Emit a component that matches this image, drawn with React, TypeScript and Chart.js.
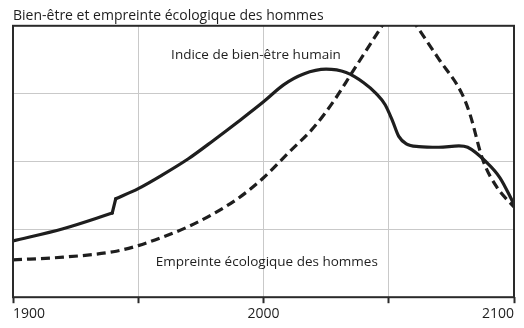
import React, { useEffect, useRef } from "react";
import { Chart, registerables } from "chart.js";

Chart.register(...registerables);

const titleText = "Bien-être et empreinte écologique des hommes";
const wellbeingLabel = "Indice de bien-être humain";
const footprintLabel = "Empreinte écologique des hommes";

const xTicks = [1900, 1950, 2000, 2050, 2100];
const xLabelled = [1900, 2000, 2100];

// Human well-being index (solid); a sudden step occurs between index 2 and 3
const wellbeingYears = [1900, 1920, 1939.6, 1941, 1950, 1960, 1970, 1980, 1990, 2000, 2008, 2016, 2025, 2033, 2040, 2045, 2048.5, 2051.5, 2054, 2057, 2062, 2070, 2078, 2081.5, 2089, 2094.4, 2100];
const wellbeingValues = [0.83, 1.01, 1.24, 1.45, 1.6, 1.81, 2.04, 2.31, 2.59, 2.88, 3.13, 3.29, 3.36, 3.31, 3.16, 3.0, 2.84, 2.6, 2.37, 2.26, 2.22, 2.21, 2.23, 2.21, 1.99, 1.76, 1.37];
const wellbeingStepIndex = 2;

// Ecological footprint (dashed)
const footprintYears = [1900, 1920, 1940, 1950, 1960, 1970, 1980, 1990, 2000, 2010, 2020, 2028.4, 2035, 2047.7, 2054, 2060.5, 2070, 2079.2, 2082.4, 2087.6, 2093.2, 2100];
const footprintValues = [0.55, 0.59, 0.67, 0.76, 0.89, 1.04, 1.23, 1.46, 1.76, 2.13, 2.5, 2.91, 3.29, 4.02, 4.37, 4.03, 3.51, 3.0, 2.7, 2.02, 1.62, 1.33];

const FONT = "'Open Sans', 'DejaVu Sans', sans-serif";
const INK = "#1e1e1e";

const annotations = [
  { text: wellbeingLabel, x: 1997, y: 3.56 },
  { text: footprintLabel, x: 2001.3, y: 0.52 },
];

const overlayPlugin = {
  id: "overlay",
  afterDatasetsDraw(chart: any) {
    const ctx = chart.ctx;
    const xs = chart.scales.x;
    const ys = chart.scales.y;
    ctx.save();
    ctx.fillStyle = INK;
    ctx.font = `13.5px ${FONT}`;
    ctx.textAlign = "center";
    ctx.textBaseline = "middle";
    for (const a of annotations) {
      ctx.fillText(a.text, xs.getPixelForValue(a.x), ys.getPixelForValue(a.y));
    }
    const ca = chart.chartArea;
    ctx.strokeStyle = "#2a2a2a";
    ctx.lineWidth = 2;
    ctx.strokeRect(ca.left, ca.top, ca.right - ca.left, ca.bottom - ca.top);
    ctx.restore();
  },
};

const pts = (xs: number[], ys: number[]) => xs.map((x, i) => ({ x, y: ys[i] }));

export default function App() {
  const ref = useRef<HTMLCanvasElement>(null);
  useEffect(() => {
    if (!ref.current) return;
    const all = pts(wellbeingYears, wellbeingValues);
    const pre = all.slice(0, wellbeingStepIndex + 1);
    const step = all.slice(wellbeingStepIndex, wellbeingStepIndex + 2);
    const post = all.slice(wellbeingStepIndex + 1);
    const solid = {
      borderColor: INK,
      borderWidth: 3.2,
      pointRadius: 0,
      fill: false,
      borderCapStyle: "round",
      borderJoinStyle: "round",
    };
    const chart = new Chart(ref.current, {
      type: "line",
      data: {
        datasets: [
          { ...solid, label: wellbeingLabel, data: pre, cubicInterpolationMode: "monotone" },
          { ...solid, label: wellbeingLabel + " (step)", data: step, tension: 0 },
          { ...solid, label: wellbeingLabel + " (cont.)", data: post, cubicInterpolationMode: "monotone" },
          {
            label: footprintLabel,
            data: pts(footprintYears, footprintValues),
            borderColor: INK,
            borderWidth: 3.2,
            borderDash: [9, 5],
            pointRadius: 0,
            cubicInterpolationMode: "monotone",
            fill: false,
          },
        ],
      },
      options: {
        animation: false,
        responsive: true,
        maintainAspectRatio: false,
        layout: { padding: { top: 8, left: 13, right: 10, bottom: 4 } },
        plugins: {
          legend: { display: false },
          tooltip: { enabled: false },
          title: {
            display: true,
            text: titleText,
            align: "start",
            color: INK,
            font: { family: FONT, size: 14, weight: "normal" },
            padding: { top: 0, bottom: 1 },
          },
        },
        scales: {
          x: {
            type: "linear",
            min: 1900,
            max: 2100,
            afterBuildTicks: (scale: any) => {
              scale.ticks = xTicks.map((v) => ({ value: v }));
            },
            ticks: {
              autoSkip: false,
              maxRotation: 0,
              align: "inner",
              color: INK,
              padding: 2,
              font: { family: FONT, size: 14 },
              callback: (v: any) => (xLabelled.includes(Number(v)) ? String(v) : ""),
            },
            grid: {
              color: "#c9c9c9",
              lineWidth: 1,
              tickColor: "#2a2a2a",
              tickWidth: 2,
              tickLength: 6,
            },
            border: { display: false },
          },
          y: {
            min: 0,
            max: 4,
            ticks: { display: false, stepSize: 1 },
            grid: { color: "#c9c9c9", lineWidth: 1, drawTicks: false },
            border: { display: false },
          },
        },
      },
      plugins: [overlayPlugin],
    } as any);
    return () => chart.destroy();
  }, []);
  return (
    <div style={{ position: "absolute", left: 0, top: 0, width: 524, height: 328, background: "#fff" }}>
      <canvas ref={ref} />
    </div>
  );
}
